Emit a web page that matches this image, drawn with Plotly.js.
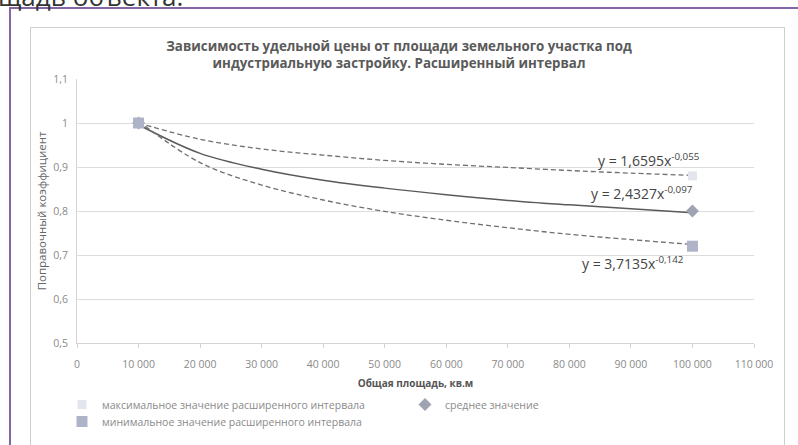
<!DOCTYPE html>
<html>
<head>
<meta charset="utf-8">
<script src="https://cdn.plot.ly/plotly-3.0.1.min.js"></script>
<style>
  html, body { margin: 0; padding: 0; background: #ffffff; overflow: hidden; }
  #wrap { position: relative; width: 798px; height: 445px; overflow: hidden; background: #ffffff; }
  #chart { position: absolute; left: 0; top: 0; width: 798px; height: 445px; }
  .ov { position: absolute; pointer-events: none; }
</style>
</head>
<body>
<div id="wrap">
  <div class="ov" id="frame" style="left:30px; top:27px; width:753px; height:440px; border:1px solid #cfcfcf;"></div>
  <div id="chart"></div>
  <div class="ov" style="left:10px; top:7px; width:788px; height:2px; background:#8466a8;"></div>
  <div class="ov" style="left:9px; top:7px; width:2px; height:438px; background:#8466a8;"></div>
  <div class="ov" style="left:-2px; top:-22px; font-family:'Open Sans', sans-serif; font-size:26px; color:#333; white-space:nowrap;">щадь объекта.</div>
</div>
<script>
// ---- data ----
const pointX = [10000, 100000];
const maxValues = [1, 0.88];
const meanValues = [1, 0.80];
const minValues = [1, 0.72];

const trendX = [10000, 20000, 30000, 40000, 50000, 60000, 70000, 80000, 90000, 100000];
const trendMax = [1.000, 0.963, 0.941, 0.927, 0.915, 0.906, 0.899, 0.892, 0.886, 0.881];
const trendMean = [0.996, 0.931, 0.895, 0.870, 0.852, 0.837, 0.824, 0.814, 0.805, 0.796];
const trendMin = [1.004, 0.910, 0.859, 0.825, 0.799, 0.779, 0.762, 0.747, 0.735, 0.724];

const seriesNames = [
  'максимальное значение расширенного интервала',
  'среднее значение',
  'минимальное значение расширенного интервала'
];
const eqLabels = [
  'y = 1,6595x<sup>-0,055</sup>',
  'y = 2,4327x<sup>-0,097</sup>',
  'y = 3,7135x<sup>-0,142</sup>'
];
const eqPosX = [92900, 91800, 90300];
const eqPosY = [0.916, 0.841, 0.682];

const xTicks = [0, 10000, 20000, 30000, 40000, 50000, 60000, 70000, 80000, 90000, 100000, 110000];
const yTicks = [0.5, 0.6, 0.7, 0.8, 0.9, 1, 1.1];

const titleText = 'Зависимость удельной цены от площади земельного участка под<br>индустриальную застройку. Расширенный интервал';
const xTitle = 'Общая площадь, кв.м';
const yTitle = 'Поправочный коэффициент';

// ---- traces ----
const traces = [
  { x: trendX, y: trendMax, mode: 'lines', line: { color: '#707070', width: 1.3, dash: '5px,3px', shape: 'spline' }, showlegend: false, hoverinfo: 'skip' },
  { x: trendX, y: trendMean, mode: 'lines', line: { color: '#5a5a5a', width: 1.5, shape: 'spline' }, showlegend: false, hoverinfo: 'skip' },
  { x: trendX, y: trendMin, mode: 'lines', line: { color: '#707070', width: 1.3, dash: '5px,3px', shape: 'spline' }, showlegend: false, hoverinfo: 'skip' },
  { x: pointX, y: maxValues, name: seriesNames[0], mode: 'markers', legend: 'legend', marker: { symbol: 'square', size: 9, color: '#e3e5ec' } },
  { x: pointX, y: meanValues, name: seriesNames[1], mode: 'markers', legend: 'legend2', marker: { symbol: 'diamond', size: 10, color: '#a0a4b2' } },
  { x: pointX, y: minValues, name: seriesNames[2], mode: 'markers', legend: 'legend3', marker: { symbol: 'square', size: 11, color: '#aeb3c8' } }
];

const annotations = eqLabels.map((t, i) => ({
  x: eqPosX[i], y: eqPosY[i], xref: 'x', yref: 'y', text: t, showarrow: false,
  font: { family: 'Open Sans, sans-serif', size: 14, color: '#444' }
}));

function legendAt(px, py) {
  return {
    orientation: 'h', x: px / 798, xref: 'container', y: 1 - py / 445, yref: 'container',
    xanchor: 'left', yanchor: 'top',
    font: { size: 10.5, color: '#8a8a8a' },
    itemwidth: 30, bgcolor: 'rgba(0,0,0,0)'
  };
}

const layout = {
  width: 798, height: 445,
  margin: { l: 77, r: 44, t: 79, b: 102 },
  paper_bgcolor: 'rgba(0,0,0,0)',
  plot_bgcolor: '#ffffff',
  separators: ', ',
  font: { family: 'Open Sans, sans-serif', color: '#777' },
  title: {
    text: titleText,
    font: { family: 'Open Sans, sans-serif', size: 13.3, color: '#5a5a5a', weight: 'bold' },
    x: 0.5, xref: 'container', xanchor: 'center',
    y: 1 - 51 / 445, yref: 'container', yanchor: 'middle'
  },
  xaxis: {
    range: [0, 110000], tickvals: xTicks, tickformat: ',d',
    showgrid: false, zeroline: false,
    showline: true, linecolor: '#d4d4d4', linewidth: 1,
    ticks: 'outside', ticklen: 4, tickcolor: '#d4d4d4', ticklabelstandoff: 7,
    tickfont: { size: 10.5, color: '#8a8a8a' },
    title: { text: xTitle, font: { size: 10, color: '#555', weight: 'bold' }, standoff: 10 }
  },
  yaxis: {
    range: [0.5, 1.1], tickvals: yTicks,
    showgrid: true, gridcolor: '#dcdcdc', gridwidth: 1, zeroline: false,
    showline: true, linecolor: '#d4d4d4', linewidth: 1,
    ticks: '', ticklabelstandoff: 6,
    tickfont: { size: 10.5, color: '#8a8a8a' },
    title: { text: yTitle, font: { size: 11.5, color: '#666' }, standoff: 4 }
  },
  legend: legendAt(62, 390),
  legend2: legendAt(405, 390),
  legend3: legendAt(62, 407),
  annotations: annotations,
  showlegend: true
};

Plotly.newPlot('chart', traces, layout, { staticPlot: true, displayModeBar: false });
</script>
</body>
</html>
